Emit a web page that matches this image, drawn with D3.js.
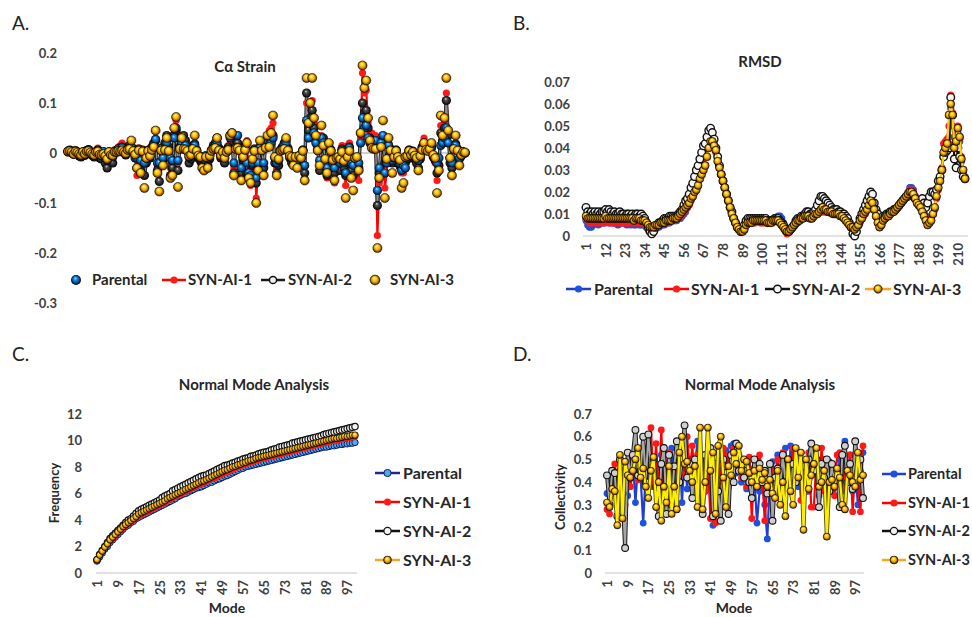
<!DOCTYPE html>
<html>
<head>
<meta charset="utf-8">
<script src="https://cdn.jsdelivr.net/npm/d3@7"></script>
<style>
  body { margin: 0; background: #fff; }
</style>
</head>
<body>
<svg id="fig" width="972" height="617"></svg>
<script>
// series names, same four in every panel
var seriesNames = ["Parental", "SYN-AI-1", "SYN-AI-2", "SYN-AI-3"];

// residue numbers (A and B) and mode numbers (C and D)
var residues = d3.range(1, 215);
var modes = d3.range(1, 101);

// A. C-alpha strain
var strainTicks = [-0.3, -0.2, -0.1, 0, 0.1, 0.2];
var strainParental = [
  .002,.004,.001,-.002,.003,.001,-.003,-.004,.002,-.002,
  .004,.006,.001,-.003,-.005,.002,.005,0,-.005,.003,
  -.01,-.015,.002,-.005,-.008,.004,.005,.008,.006,.01,
  .004,-.002,.006,.01,.012,.004,-.01,-.01,.005,-.015,
  .003,-.02,-.01,.004,-.005,.01,.015,.027,-.02,-.02,
  .005,-.01,.01,.02,.005,-.01,-.015,.03,.05,-.015,
  .01,.02,.01,.015,.005,-.008,-.005,.01,.015,.005,
  -.005,-.01,-.008,-.012,-.005,-.01,-.005,.005,.01,.015,
  .02,.005,-.005,.003,-.01,.002,.008,.03,.035,-.02,
  .01,.035,.005,-.03,-.01,.01,-.02,-.04,-.045,-.02,
  .005,-.05,-.02,.01,.005,-.02,.015,.025,.03,.02,
  .03,-.01,-.02,-.015,.005,.008,.015,.02,.005,-.005,
  -.01,-.015,-.01,-.015,-.005,-.01,.005,-.025,.065,.03,
  .06,.07,.04,.02,.005,-.015,.03,.02,-.02,-.03,
  .01,.005,-.02,-.03,-.015,-.01,-.02,.005,-.02,-.04,
  -.01,.01,-.02,-.025,-.01,-.01,-.02,.02,.07,.05,
  .055,.03,.02,.02,.015,.025,-.075,-.03,.02,.035,
  -.04,-.02,.015,.005,-.015,-.01,.005,-.01,-.02,-.035,
  -.025,-.03,-.01,.005,-.005,.002,-.005,-.01,-.015,-.005,
  .01,.015,.01,.005,.01,.01,-.005,-.01,-.02,-.01,
  .015,.02,.03,.05,.02,-.01,-.02,.01,.015,.005,
  -.01,-.005,.002,0
];
var strainSyn1 = [
  .003,.005,.002,-.003,.004,.001,-.004,-.005,.003,-.003,
  .006,.008,.002,-.004,-.006,.004,.01,.005,0,.004,
  -.01,-.012,.003,-.006,-.01,.006,.004,.012,.015,.02,
  .008,-.003,.01,.012,.015,.006,.01,-.045,.01,-.02,
  .005,-.02,-.015,.008,-.008,.006,.012,.03,-.025,-.03,
  .008,-.012,.015,.025,.008,-.03,-.02,.04,.065,-.02,
  .015,.018,.015,.012,.006,-.01,-.006,.012,.02,.008,
  -.008,-.02,-.025,-.03,-.01,-.02,-.01,.008,.012,.01,
  .015,.008,-.008,.005,-.015,.003,.01,.02,.025,-.03,
  .012,.015,.01,-.045,-.02,.015,.025,-.05,-.065,-.03,
  .01,-.09,-.04,.015,.01,-.04,.02,.03,.045,.05,
  .06,-.015,-.03,-.02,.008,.01,.012,.015,.008,-.008,
  -.015,-.02,-.012,-.02,-.01,-.02,.008,-.05,.1,.05,
  .09,.105,.06,.03,.01,-.02,.035,.025,-.03,-.05,
  .015,.008,-.03,-.06,-.02,-.015,-.025,.015,-.03,-.065,
  .015,.02,-.04,-.035,-.015,-.015,-.055,.03,.16,.12,
  .125,.06,.04,.04,.03,.035,-.165,-.06,.02,.03,
  -.07,-.04,.02,.01,-.02,-.015,.008,-.015,-.03,-.04,
  -.04,-.025,-.015,.008,-.008,.003,-.008,-.015,-.02,-.01,
  .015,.03,.02,.01,.015,.015,-.01,-.02,-.055,-.03,
  .055,.03,.06,.12,.04,-.02,-.03,.012,.02,.01,
  -.015,-.008,.003,.001
];
var strainSyn2 = [
  .004,.006,.003,-.002,.005,.002,-.006,-.008,.002,-.005,
  .005,.007,.001,-.005,-.008,.003,.006,-.01,-.012,-.005,
  -.02,-.03,.002,-.015,-.02,.003,.002,.008,.01,.012,
  .003,-.004,.012,.015,.01,.008,-.005,-.03,.008,-.035,
  .006,-.045,-.02,.005,-.01,.012,.02,.025,-.035,-.057,
  .01,-.02,.02,.035,.012,-.045,-.03,.035,.045,-.035,
  .012,.02,.035,.025,.008,-.02,-.012,.015,.018,.006,
  -.01,-.015,-.02,-.02,-.01,-.025,-.012,.006,.015,.02,
  .03,.01,-.01,.004,-.02,.004,.012,.035,.04,-.04,
  .015,.02,.008,-.04,-.015,.012,-.04,-.045,-.05,-.025,
  .008,-.06,-.03,.012,.008,-.03,.018,.028,.03,.025,
  .035,-.02,-.04,-.025,.006,.012,.02,.025,.01,-.01,
  -.02,-.02,-.015,-.02,-.012,-.02,.006,-.04,.12,.045,
  .07,.085,.05,.025,.008,-.035,.02,.03,-.025,-.045,
  .012,.006,-.025,-.04,-.02,-.02,-.035,.008,-.03,-.045,
  -.015,.012,-.035,-.045,-.02,-.02,-.03,.04,.1,.08,
  .085,.05,.03,.025,.02,.02,-.105,-.04,.015,.025,
  -.02,-.015,.015,.008,-.02,-.012,.006,-.02,-.025,-.03,
  -.03,-.02,-.012,.006,-.01,.004,-.01,-.02,-.03,-.012,
  .012,.02,.015,.008,.012,.012,-.008,-.015,-.04,-.025,
  .04,.025,.05,.105,.035,-.02,-.03,.015,.018,.008,
  -.012,-.006,.002,0
];
var strainSyn3 = [
  .003,.004,.002,-.002,.003,.001,-.002,-.004,.002,-.002,
  .003,.004,.001,-.002,-.004,.002,.003,-.003,-.004,-.002,
  -.006,-.012,.002,-.004,-.005,.002,.002,.004,.003,.005,
  .002,-.001,.006,.008,.025,.004,-.003,-.03,.005,-.04,
  .003,-.07,-.01,.004,-.006,.006,.012,.045,-.04,-.077,
  .005,-.025,.006,.03,.004,-.05,-.045,.05,.072,-.068,
  .008,.03,.008,.007,.004,-.006,-.004,.008,.035,.004,
  -.005,-.008,-.03,-.035,-.008,-.03,-.006,.004,.008,.01,
  .03,.005,-.005,.002,-.01,.002,.006,.035,.04,-.045,
  .008,.01,.005,-.055,-.008,.006,.02,-.05,-.06,-.012,
  .004,-.1,-.035,.025,.005,-.045,.01,.035,.012,.04,
  .075,-.008,-.045,-.012,.004,.006,.008,.03,.005,-.006,
  -.008,-.025,-.008,-.03,-.006,-.01,.004,-.055,.15,.06,
  .1,.15,.07,.035,.005,-.025,.055,.015,-.012,-.04,
  .02,.004,-.014,-.055,-.01,-.008,-.012,.002,-.016,-.09,
  -.008,.004,-.05,-.075,-.01,-.008,-.035,.04,.175,.13,
  .145,.07,.025,.01,.008,.008,-.19,-.05,.012,.065,
  -.09,-.012,.03,.005,-.04,-.008,.004,-.008,-.014,-.07,
  -.06,-.008,-.006,.004,-.004,.002,-.005,-.01,-.035,-.006,
  .006,.02,.006,.004,.008,.02,-.004,-.01,-.08,-.035,
  .075,.035,.07,.15,.045,-.01,-.045,.008,.035,.005,
  -.025,-.004,.002,.001
];

// B. RMSD
var rmsdTicks = [0, 0.01, 0.02, 0.03, 0.04, 0.05, 0.06, 0.07];
var rmsdParental = [
  .007,.005,.004,.004,.005,.006,.006,.005,.006,.006,
  .006,.006,.007,.006,.006,.006,.006,.006,.005,.006,
  .006,.006,.006,.005,.006,.005,.006,.005,.005,.006,
  .005,.005,.005,.005,.004,.003,.002,.002,.002,.003,
  .004,.004,.005,.005,.005,.006,.006,.006,.007,.007,
  .007,.007,.008,.008,.009,.010,.011,.013,.015,.018,
  .020,.022,.025,.028,.031,.034,.038,.041,.044,.047,
  .049,.047,.043,.039,.035,.031,.028,.025,.022,.019,
  .016,.013,.010,.008,.006,.004,.003,.002,.002,.003,
  .005,.006,.006,.006,.007,.007,.007,.007,.007,.007,
  .007,.007,.006,.006,.007,.007,.008,.008,.009,.009,
  .008,.006,.004,.002,.002,.003,.004,.005,.006,.006,
  .007,.008,.008,.009,.010,.010,.009,.009,.010,.011,
  .011,.012,.012,.012,.012,.011,.011,.011,.011,.010,
  .011,.011,.010,.010,.009,.009,.008,.007,.006,.004,
  .003,.002,.004,.005,.007,.008,.010,.011,.012,.013,
  .014,.014,.012,.010,.008,.005,.006,.007,.008,.009,
  .010,.010,.011,.012,.012,.013,.014,.015,.016,.017,
  .018,.020,.022,.022,.021,.018,.016,.015,.014,.013,
  .011,.009,.008,.008,.009,.010,.012,.018,.022,.026,
  .030,.037,.040,.042,.045,.058,.050,.040,.042,.047,
  .043,.034,.029,.026
];
var rmsdSyn1 = [
  .008,.007,.006,.006,.006,.007,.006,.006,.006,.007,
  .006,.007,.007,.006,.007,.006,.006,.006,.006,.006,
  .006,.006,.006,.006,.006,.006,.006,.006,.006,.006,
  .006,.006,.006,.005,.004,.003,.003,.003,.003,.004,
  .004,.005,.005,.006,.006,.006,.006,.007,.007,.007,
  .007,.008,.008,.009,.010,.011,.012,.013,.014,.016,
  .018,.020,.022,.025,.028,.031,.034,.037,.040,.042,
  .044,.043,.041,.038,.034,.031,.028,.025,.022,.019,
  .016,.013,.010,.008,.006,.004,.003,.002,.002,.003,
  .005,.006,.006,.006,.006,.006,.007,.007,.006,.006,
  .006,.007,.006,.006,.006,.006,.007,.007,.007,.006,
  .005,.004,.002,.001,.002,.003,.004,.005,.006,.007,
  .007,.008,.008,.008,.009,.009,.009,.008,.009,.010,
  .010,.011,.011,.011,.011,.011,.011,.011,.010,.010,
  .010,.010,.010,.009,.009,.008,.007,.006,.005,.004,
  .003,.003,.004,.005,.006,.008,.009,.010,.012,.013,
  .015,.014,.012,.009,.006,.004,.005,.007,.008,.009,
  .009,.010,.011,.011,.012,.013,.014,.015,.016,.017,
  .018,.019,.021,.021,.020,.018,.016,.014,.013,.012,
  .010,.008,.007,.007,.008,.010,.012,.017,.021,.026,
  .031,.042,.043,.044,.050,.064,.056,.042,.045,.050,
  .044,.036,.030,.027
];
var rmsdSyn2 = [
  .013,.011,.010,.011,.010,.011,.010,.011,.010,.011,
  .011,.012,.011,.012,.011,.010,.011,.010,.010,.011,
  .010,.010,.009,.010,.010,.009,.010,.009,.010,.010,
  .009,.010,.009,.008,.006,.004,.002,.001,.002,.004,
  .005,.006,.006,.007,.008,.008,.008,.009,.009,.009,
  .009,.009,.010,.011,.012,.014,.016,.017,.019,.022,
  .024,.027,.030,.032,.035,.038,.041,.042,.045,.048,
  .049,.047,.044,.040,.036,.032,.028,.025,.022,.019,
  .016,.013,.011,.008,.006,.004,.003,.002,.003,.005,
  .007,.008,.008,.008,.008,.008,.008,.008,.008,.008,
  .008,.008,.007,.007,.007,.007,.008,.008,.008,.007,
  .006,.005,.003,.002,.002,.003,.004,.005,.007,.008,
  .008,.009,.009,.010,.011,.011,.010,.010,.011,.012,
  .014,.016,.018,.018,.017,.016,.015,.014,.013,.012,
  .012,.012,.011,.011,.010,.010,.009,.008,.006,.004,
  .001,.000,.002,.005,.008,.010,.012,.014,.016,.018,
  .020,.019,.015,.012,.010,.008,.008,.009,.009,.010,
  .010,.011,.011,.012,.012,.013,.014,.015,.016,.017,
  .018,.018,.019,.019,.018,.017,.016,.015,.016,.017,
  .015,.013,.015,.018,.020,.020,.019,.021,.025,.027,
  .030,.036,.038,.039,.040,.063,.055,.035,.031,.040,
  .036,.030,.027,.026
];
var rmsdSyn3 = [
  .009,.008,.008,.008,.008,.008,.008,.008,.008,.008,
  .008,.009,.008,.008,.008,.008,.008,.008,.008,.008,
  .008,.008,.008,.008,.008,.008,.008,.007,.008,.008,
  .008,.007,.007,.007,.006,.005,.004,.004,.004,.005,
  .005,.005,.006,.006,.006,.007,.007,.007,.007,.008,
  .008,.008,.009,.010,.011,.012,.013,.014,.015,.017,
  .018,.020,.021,.023,.026,.028,.030,.032,.036,.040,
  .043,.043,.041,.039,.034,.031,.028,.025,.022,.019,
  .016,.013,.010,.008,.006,.004,.003,.002,.002,.003,
  .005,.006,.006,.006,.007,.007,.007,.007,.007,.007,
  .007,.007,.006,.006,.006,.007,.007,.007,.007,.006,
  .005,.004,.003,.002,.002,.003,.004,.005,.006,.007,
  .007,.008,.008,.009,.009,.009,.008,.008,.009,.010,
  .010,.011,.012,.013,.012,.012,.011,.011,.011,.010,
  .010,.010,.010,.009,.009,.008,.007,.006,.005,.004,
  .004,.003,.004,.005,.007,.008,.010,.011,.012,.014,
  .016,.015,.012,.009,.006,.004,.005,.007,.008,.009,
  .009,.010,.011,.011,.012,.013,.014,.015,.016,.017,
  .018,.019,.020,.020,.019,.017,.015,.014,.013,.011,
  .009,.007,.005,.006,.007,.010,.013,.018,.022,.025,
  .030,.038,.040,.042,.055,.060,.055,.040,.043,.049,
  .045,.035,.030,.026
];

// C. Normal mode frequency
var freqTicks = [0, 2, 4, 6, 8, 10, 12];
var freqParental = [
  0.9,1.2,1.5,1.8,2.0,2.3,2.5,2.7,2.9,3.1,
  3.3,3.5,3.6,3.8,3.9,4.1,4.2,4.3,4.4,4.5,
  4.6,4.7,4.8,4.9,5.0,5.1,5.2,5.3,5.4,5.5,
  5.6,5.75,5.85,5.95,6.0,6.1,6.2,6.3,6.4,6.45,
  6.5,6.6,6.7,6.8,6.85,6.95,7.05,7.1,7.2,7.3,
  7.35,7.45,7.55,7.65,7.75,7.85,7.9,8.0,8.05,8.1,
  8.15,8.2,8.25,8.3,8.35,8.4,8.45,8.5,8.55,8.6,
  8.65,8.7,8.75,8.8,8.85,8.9,8.95,9.0,9.05,9.1,
  9.15,9.2,9.25,9.3,9.35,9.4,9.45,9.5,9.5,9.55,
  9.6,9.6,9.65,9.7,9.7,9.75,9.75,9.8,9.8,9.85
];
var freqSyn1 = [
  0.95,1.3,1.6,1.9,2.15,2.4,2.6,2.8,3.0,3.2,
  3.4,3.55,3.7,3.85,4.0,4.15,4.3,4.4,4.5,4.6,
  4.7,4.8,4.9,5.0,5.1,5.2,5.3,5.45,5.55,5.65,
  5.75,5.85,5.95,6.05,6.15,6.25,6.35,6.45,6.55,6.65,
  6.7,6.8,6.9,7.0,7.1,7.15,7.25,7.35,7.45,7.55,
  7.6,7.7,7.8,7.9,8.0,8.05,8.15,8.2,8.3,8.35,
  8.4,8.5,8.55,8.6,8.65,8.7,8.75,8.8,8.85,8.9,
  8.95,9.0,9.05,9.1,9.15,9.2,9.25,9.3,9.35,9.4,
  9.45,9.5,9.55,9.6,9.65,9.7,9.75,9.8,9.85,9.9,
  9.95,10.0,10.0,10.05,10.1,10.15,10.2,10.2,10.25,10.3
];
var freqSyn2 = [
  1.0,1.4,1.7,2.0,2.3,2.6,2.8,3.0,3.2,3.4,
  3.6,3.8,4.0,4.1,4.3,4.5,4.7,4.8,4.9,5.0,
  5.1,5.2,5.3,5.4,5.5,5.7,5.8,5.9,6.0,6.2,
  6.3,6.4,6.5,6.6,6.7,6.8,6.9,7.0,7.1,7.2,
  7.3,7.35,7.4,7.5,7.6,7.7,7.8,7.9,8.0,8.1,
  8.15,8.2,8.3,8.35,8.45,8.5,8.6,8.65,8.7,8.8,
  8.85,8.9,9.0,9.05,9.1,9.15,9.2,9.3,9.35,9.4,
  9.5,9.55,9.6,9.65,9.7,9.8,9.85,9.9,9.95,10.0,
  10.05,10.1,10.15,10.2,10.25,10.3,10.35,10.45,10.5,10.55,
  10.6,10.65,10.7,10.75,10.8,10.85,10.9,10.95,11.0,11.05
];
var freqSyn3 = [
  1.0,1.35,1.65,1.95,2.2,2.5,2.7,2.9,3.1,3.3,
  3.5,3.65,3.8,3.95,4.1,4.25,4.45,4.55,4.65,4.75,
  4.85,4.95,5.05,5.15,5.25,5.35,5.45,5.6,5.7,5.8,
  5.9,6.0,6.1,6.2,6.3,6.4,6.5,6.6,6.7,6.8,
  6.9,6.95,7.05,7.15,7.25,7.35,7.45,7.55,7.65,7.75,
  7.8,7.9,8.0,8.05,8.15,8.2,8.3,8.35,8.45,8.5,
  8.55,8.65,8.7,8.75,8.8,8.85,8.9,8.95,9.0,9.05,
  9.1,9.15,9.2,9.25,9.3,9.35,9.4,9.45,9.5,9.55,
  9.6,9.65,9.7,9.75,9.8,9.85,9.9,9.95,10.0,10.05,
  10.1,10.15,10.15,10.2,10.25,10.3,10.3,10.35,10.4,10.4
];

// D. Normal mode collectivity
var collTicks = [0, 0.1, 0.2, 0.3, 0.4, 0.5, 0.6, 0.7];
var collParental = [
  .35,.30,.40,.44,.33,.45,.38,.42,.34,.45,
  .50,.31,.48,.42,.22,.45,.40,.50,.38,.46,
  .36,.52,.33,.48,.40,.55,.34,.50,.56,.31,
  .52,.37,.50,.33,.47,.58,.40,.52,.36,.48,
  .38,.21,.45,.36,.50,.42,.54,.38,.56,.57,
  .44,.52,.40,.48,.37,.46,.33,.42,.22,.36,
  .40,.30,.15,.42,.49,.38,.52,.40,.47,.55,
  .36,.56,.44,.50,.38,.53,.41,.48,.36,.54,
  .44,.50,.34,.48,.50,.38,.49,.42,.46,.40,
  .50,.36,.58,.44,.52,.36,.47,.30,.45,.53
];
var collSyn1 = [
  .28,.26,.38,.48,.40,.36,.45,.30,.42,.38,
  .44,.50,.41,.47,.43,.52,.46,.64,.38,.57,
  .33,.63,.30,.48,.53,.36,.45,.30,.50,.55,
  .43,.60,.45,.56,.39,.52,.44,.47,.36,.50,
  .24,.42,.22,.48,.40,.55,.43,.52,.47,.55,
  .50,.45,.42,.48,.38,.51,.24,.50,.46,.52,
  .44,.23,.40,.36,.45,.38,.50,.42,.53,.40,
  .46,.38,.55,.40,.49,.32,.44,.36,.53,.29,
  .29,.50,.40,.55,.36,.45,.40,.48,.34,.52,
  .53,.38,.45,.42,.52,.27,.48,.40,.27,.56
];
var collSyn2 = [
  .43,.30,.45,.44,.25,.50,.35,.11,.53,.42,
  .52,.63,.43,.45,.60,.40,.61,.45,.50,.38,
  .25,.48,.55,.26,.52,.30,.47,.58,.40,.50,
  .65,.42,.48,.33,.50,.40,.46,.26,.52,.45,
  .55,.25,.48,.36,.23,.50,.44,.26,.52,.40,
  .57,.45,.50,.42,.48,.40,.33,.50,.44,.48,
  .40,.45,.35,.48,.23,.42,.46,.38,.52,.40,
  .50,.36,.48,.40,.52,.44,.47,.38,.50,.57,
  .45,.50,.29,.48,.42,.50,.36,.48,.40,.45,
  .29,.52,.56,.40,.48,.37,.58,.44,.50,.33
];
var collSyn3 = [
  .31,.29,.37,.36,.21,.52,.24,.49,.43,.42,
  .45,.50,.55,.42,.46,.38,.33,.45,.51,.29,
  .40,.23,.38,.31,.47,.26,.38,.28,.53,.60,
  .48,.49,.45,.40,.47,.29,.64,.28,.40,.64,
  .45,.53,.26,.56,.60,.42,.29,.47,.43,.53,
  .48,.56,.45,.50,.49,.44,.40,.45,.38,.46,
  .41,.44,.38,.41,.35,.33,.45,.30,.40,.25,
  .50,.36,.30,.55,.42,.53,.19,.50,.37,.43,
  .48,.55,.38,.40,.45,.16,.40,.41,.38,.46,
  .42,.30,.28,.45,.43,.40,.38,.53,.41,.43
];

var FONT = "Lato, 'Open Sans', 'DejaVu Sans', sans-serif";
var svg = d3.select("#fig").attr("font-family", FONT);
var defs = svg.append("defs");

// shiny ball fills used for the markers
function ball(id, stops) {
  var g = defs.append("radialGradient").attr("id", id)
    .attr("cx", "50%").attr("cy", "50%").attr("r", "50%")
    .attr("fx", "42%").attr("fy", "30%");
  stops.forEach(function (s) {
    g.append("stop").attr("offset", s[0]).attr("stop-color", s[1]);
  });
}
ball("gold", [["0%", "#fffbd8"], ["22%", "#ffe34a"], ["55%", "#f5b300"], ["82%", "#9a5c00"], ["100%", "#0d0800"]]);
ball("blueBall", [["0%", "#a8e6ff"], ["30%", "#1a96f0"], ["70%", "#064a90"], ["100%", "#000"]]);
ball("blackBall", [["0%", "#e6e6e6"], ["28%", "#555"], ["100%", "#000"]]);

function leftAxis(y, xPos, ticks) {
  var ax = svg.append("g").attr("transform", "translate(" + xPos + ",0)")
    .call(d3.axisLeft(y).tickValues(ticks).tickSize(0).tickPadding(0).tickFormat(function (d) { return String(d); }));
  ax.select(".domain").remove();
  ax.attr("font-family", FONT).attr("font-size", 13).attr("font-weight", 700);
  ax.selectAll("text").attr("fill", "#404040");
}

function bottomAxis(x, yPos, ticks, x0, x1) {
  svg.append("line").attr("x1", x0).attr("x2", x1).attr("y1", yPos).attr("y2", yPos)
    .attr("stroke", "#d9d9d9").attr("stroke-width", 1.3);
  var ax = svg.append("g").attr("transform", "translate(0," + yPos + ")")
    .call(d3.axisBottom(x).tickValues(ticks).tickSize(0));
  ax.select(".domain").remove();
  ax.attr("font-family", FONT).attr("font-size", 13).attr("font-weight", 700);
  ax.selectAll("text").attr("fill", "#404040")
    .attr("transform", "rotate(-90)").attr("x", -7).attr("y", 0)
    .attr("dy", "0.35em").attr("text-anchor", "end");
}

function drawLine(data, x, y, cats, color, width) {
  var line = d3.line().x(function (d, i) { return x(cats[i]); }).y(function (d) { return y(d); });
  svg.append("path").datum(data).attr("d", line)
    .attr("fill", "none").attr("stroke", color).attr("stroke-width", width)
    .attr("stroke-linejoin", "round");
}

function drawMarkers(data, x, y, cats, m) {
  svg.append("g").selectAll("circle").data(data).enter().append("circle")
    .attr("cx", function (d, i) { return x(cats[i]); })
    .attr("cy", function (d) { return y(d); })
    .attr("r", m.r).attr("fill", m.fill)
    .attr("stroke", m.stroke || "none").attr("stroke-width", m.sw || 0);
}

function text(x, y, str, size, weight, anchor, color) {
  return svg.append("text").attr("x", x).attr("y", y).text(str)
    .attr("font-size", size).attr("font-weight", weight)
    .attr("text-anchor", anchor || "start").attr("fill", color || "#262626");
}

function legendItem(x0, x1, y, lineStyle, m, label, tx, size) {
  if (lineStyle) {
    lineStyle.forEach(function (ls) {
      svg.append("line").attr("x1", x0).attr("x2", x1).attr("y1", y).attr("y2", y)
        .attr("stroke", ls[0]).attr("stroke-width", ls[1]);
    });
  }
  svg.append("circle").attr("cx", (x0 + x1) / 2).attr("cy", y).attr("r", m.r)
    .attr("fill", m.fill).attr("stroke", m.stroke || "none").attr("stroke-width", m.sw || 0);
  text(tx, y, label, size, 700).attr("dy", "0.35em");
}

// panel letters
text(12, 30, "A.", 19, 400, "start", "#222");
text(513, 30, "B.", 19, 400, "start", "#222");
text(12, 361, "C.", 19, 400, "start", "#222");
text(513, 361, "D.", 19, 400, "start", "#222");

// ---------- A. C-alpha strain ----------
var xA = d3.scalePoint().domain(residues).range([68, 465]);
var yA = d3.scaleLinear().domain([-0.3, 0.2]).range([303, 53]);
leftAxis(yA, 57, strainTicks);
svg.append("line").attr("x1", 66).attr("x2", 467).attr("y1", yA(0)).attr("y2", yA(0))
  .attr("stroke", "#bfbfbf").attr("stroke-width", 1.3);
text(245, 72, "C\u03b1 Strain", 15, 700, "middle");

drawLine(strainSyn1, xA, yA, residues, "#ff0000", 2.2);
drawLine(strainSyn2, xA, yA, residues, "#1a1a1a", 3.4);
drawLine(strainSyn2, xA, yA, residues, "#8c8c8c", 1.6);
drawMarkers(strainSyn1, xA, yA, residues, { r: 3.6, fill: "#ff1a1a" });
drawMarkers(strainSyn2, xA, yA, residues, { r: 4.6, fill: "url(#blackBall)" });
drawMarkers(strainParental, xA, yA, residues, { r: 4.6, fill: "url(#blueBall)" });
drawMarkers(strainSyn3, xA, yA, residues, { r: 4.6, fill: "url(#gold)", stroke: "#1a1000", sw: 0.5 });

legendItem(70, 82, 280, null, { r: 5, fill: "url(#blueBall)" }, seriesNames[0], 92, 15);
legendItem(162, 186, 280, [["#ff0000", 2.5]], { r: 3.6, fill: "#ff1a1a" }, seriesNames[1], 188, 15);
legendItem(261, 285, 280, [["#1a1a1a", 2.5]], { r: 3.6, fill: "#f0f0f0", stroke: "#111", sw: 1.5 }, seriesNames[2], 288, 15);
legendItem(369, 381, 280, null, { r: 5, fill: "url(#gold)", stroke: "#1a1000", sw: 0.5 }, seriesNames[3], 390, 15);

// ---------- B. RMSD ----------
var xB = d3.scalePoint().domain(residues).range([586, 965]);
var yB = d3.scaleLinear().domain([0, 0.07]).range([236, 82]);
leftAxis(yB, 570, rmsdTicks);
bottomAxis(xB, 236, residues.filter(function (d) { return (d - 1) % 11 === 0; }), 583, 968);
text(760, 67, "RMSD", 15, 700, "middle");

drawLine(rmsdParental, xB, yB, residues, "#1f3fc0", 2.4);
drawMarkers(rmsdParental, xB, yB, residues, { r: 3.6, fill: "#1f50e0" });
drawLine(rmsdSyn1, xB, yB, residues, "#ff0000", 2.4);
drawMarkers(rmsdSyn1, xB, yB, residues, { r: 3.6, fill: "#ff1a1a" });
drawLine(rmsdSyn2, xB, yB, residues, "#111", 2.2);
drawMarkers(rmsdSyn2, xB, yB, residues, { r: 3.8, fill: "#f4f4f4", stroke: "#111", sw: 1.4 });
drawLine(rmsdSyn3, xB, yB, residues, "#ffd000", 2.4);
drawMarkers(rmsdSyn3, xB, yB, residues, { r: 4, fill: "url(#gold)", stroke: "#1a1000", sw: 0.5 });

legendItem(566, 591, 289, [["#1f3fc0", 2.5]], { r: 3.6, fill: "#1f50e0" }, seriesNames[0], 594, 16);
legendItem(664, 689, 289, [["#ff0000", 2.5]], { r: 3.6, fill: "#ff1a1a" }, seriesNames[1], 691, 16);
legendItem(765, 790, 289, [["#111", 2.5]], { r: 3.8, fill: "#f4f4f4", stroke: "#111", sw: 1.4 }, seriesNames[2], 792, 16);
legendItem(865, 891, 289, [["#f5a623", 2.5]], { r: 4.2, fill: "url(#gold)", stroke: "#1a1000", sw: 0.5 }, seriesNames[3], 893, 16);

// ---------- C. Frequency ----------
var xC = d3.scalePoint().domain(modes).range([97, 355]);
var yC = d3.scaleLinear().domain([0, 12]).range([573, 414]);
leftAxis(yC, 82, freqTicks);
bottomAxis(xC, 573, modes.filter(function (d) { return (d - 1) % 8 === 0; }), 96, 357);
text(254, 390, "Normal Mode Analysis", 15, 700, "middle");
text(0, 0, "Frequency", 13, 700, "middle").attr("transform", "translate(59,493) rotate(-90)");
text(227, 613, "Mode", 14, 700, "middle");

drawLine(freqParental, xC, yC, modes, "#1a2b8c", 2);
drawMarkers(freqParental, xC, yC, modes, { r: 3.2, fill: "#4fa8f0", stroke: "#0a1a60", sw: 1 });
drawLine(freqSyn1, xC, yC, modes, "#ff0000", 2);
drawMarkers(freqSyn1, xC, yC, modes, { r: 3.2, fill: "#ff1a1a" });
drawLine(freqSyn2, xC, yC, modes, "#111", 2);
drawMarkers(freqSyn2, xC, yC, modes, { r: 3.2, fill: "#f4f4f4", stroke: "#111", sw: 1.2 });
drawLine(freqSyn3, xC, yC, modes, "#ffb000", 2);
drawMarkers(freqSyn3, xC, yC, modes, { r: 3.4, fill: "url(#gold)", stroke: "#1a1000", sw: 0.5 });

legendItem(375, 400, 473, [["#1a2b8c", 2.5]], { r: 3.6, fill: "#4fa8f0", stroke: "#0a1a60", sw: 1 }, seriesNames[0], 403, 16);
legendItem(375, 400, 502, [["#ff0000", 2.5]], { r: 3.6, fill: "#ff1a1a" }, seriesNames[1], 403, 16);
legendItem(375, 400, 531, [["#111", 2.5]], { r: 3.6, fill: "#f4f4f4", stroke: "#111", sw: 1.2 }, seriesNames[2], 403, 16);
legendItem(375, 400, 560, [["#f5a623", 2.5]], { r: 4, fill: "url(#gold)", stroke: "#1a1000", sw: 0.5 }, seriesNames[3], 403, 16);

// ---------- D. Collectivity ----------
var xD = d3.scalePoint().domain(modes).range([607, 863]);
var yD = d3.scaleLinear().domain([0, 0.7]).range([573, 414]);
leftAxis(yD, 592, collTicks);
bottomAxis(xD, 573, modes.filter(function (d) { return (d - 1) % 8 === 0; }), 605, 864);
text(760, 390, "Normal Mode Analysis", 15, 700, "middle");
text(0, 0, "Collectivity", 13, 700, "middle").attr("transform", "translate(565,497) rotate(-90)");
text(734, 613, "Mode", 14, 700, "middle");

drawLine(collParental, xD, yD, modes, "#1f3fd0", 2.2);
drawMarkers(collParental, xD, yD, modes, { r: 3.4, fill: "#1f50e0" });
drawLine(collSyn1, xD, yD, modes, "#ff0000", 2.2);
drawMarkers(collSyn1, xD, yD, modes, { r: 3.4, fill: "#ff1a1a" });
drawLine(collSyn2, xD, yD, modes, "#1a1a1a", 4);
drawLine(collSyn2, xD, yD, modes, "#a6a6a6", 2);
drawMarkers(collSyn2, xD, yD, modes, { r: 3.4, fill: "#d0d0d0", stroke: "#111", sw: 1.1 });
drawLine(collSyn3, xD, yD, modes, "#5c5200", 4);
drawLine(collSyn3, xD, yD, modes, "#ffee00", 2.2);
drawMarkers(collSyn3, xD, yD, modes, { r: 3.6, fill: "url(#gold)", stroke: "#1a1000", sw: 0.5 });

legendItem(882, 906, 474, [["#1f3fd0", 2.5]], { r: 3.6, fill: "#1f50e0" }, seriesNames[0], 908, 14.5);
legendItem(882, 906, 503, [["#ff0000", 2.5]], { r: 3.6, fill: "#ff1a1a" }, seriesNames[1], 908, 14.5);
legendItem(882, 906, 531, [["#111", 2.5]], { r: 3.6, fill: "#f4f4f4", stroke: "#111", sw: 1.2 }, seriesNames[2], 908, 14.5);
legendItem(882, 906, 560, [["#f5a623", 2.5]], { r: 4, fill: "url(#gold)", stroke: "#1a1000", sw: 0.5 }, seriesNames[3], 908, 14.5);
</script>
</body>
</html>
